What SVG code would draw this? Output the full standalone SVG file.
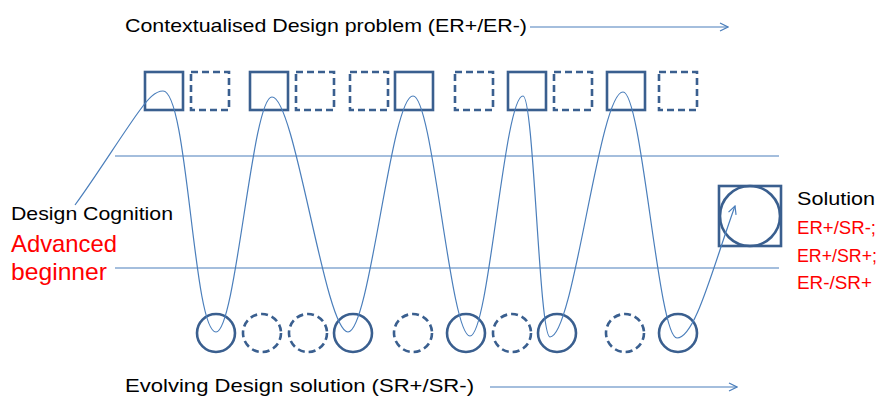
<svg xmlns="http://www.w3.org/2000/svg" width="885" height="398" viewBox="0 0 885 398">
  <style>
    .box { fill: none; stroke: #3A5F8F; stroke-width: 2.6; }
    .dash { stroke-dasharray: 7 4; }
    .thin { fill: none; stroke: #4A7EBB; stroke-width: 1.2; }
    .lbl { font-family: "Liberation Sans", Arial, sans-serif; font-size: 19px; fill: #000; }
    .red { font-family: "Liberation Sans", Arial, sans-serif; fill: #FF0000; }
  </style>
  <defs>
    <marker id="open" viewBox="0 0 10 10" refX="9" refY="5" markerWidth="10" markerHeight="10" markerUnits="userSpaceOnUse" orient="auto">
      <path d="M1,1 L9,5 L1,9" fill="none" stroke="#4A7EBB" stroke-width="1.2"/>
    </marker>
  </defs>
  <rect width="885" height="398" fill="#FFFFFF"/>

  <!-- top row: problem frames -->
  <g id="problem-frames">
    <rect id="p1" class="box" x="145" y="72" width="38" height="38"/>
    <rect id="p2" class="box dash" x="191" y="72" width="38" height="38"/>
    <rect id="p3" class="box" x="250" y="72" width="38" height="38"/>
    <rect id="p4" class="box dash" x="296" y="72" width="38" height="38"/>
    <rect id="p5" class="box dash" x="350" y="72" width="38" height="38"/>
    <rect id="p6" class="box" x="395" y="72" width="38" height="38"/>
    <rect id="p7" class="box dash" x="455" y="72" width="38" height="38"/>
    <rect id="p8" class="box" x="508" y="72" width="38" height="38"/>
    <rect id="p9" class="box dash" x="554" y="72" width="38" height="38"/>
    <rect id="p10" class="box" x="607" y="72" width="38" height="38"/>
    <rect id="p11" class="box dash" x="659" y="72" width="38" height="38"/>
  </g>

  <!-- bottom row: solution states -->
  <g id="solution-states">
    <circle id="s1" class="box" cx="216" cy="333" r="19"/>
    <circle id="s2" class="box dash" cx="262" cy="333" r="19"/>
    <circle id="s3" class="box dash" cx="308" cy="333" r="19"/>
    <circle id="s4" class="box" cx="353" cy="333" r="19"/>
    <circle id="s5" class="box dash" cx="413" cy="333" r="19"/>
    <circle id="s6" class="box" cx="466" cy="333" r="19"/>
    <circle id="s7" class="box dash" cx="512" cy="333" r="19"/>
    <circle id="s8" class="box" cx="557" cy="333" r="19"/>
    <circle id="s9" class="box dash" cx="625" cy="333" r="19"/>
    <circle id="s10" class="box" cx="678" cy="333" r="19"/>
  </g>

  <!-- final solution node -->
  <g id="solution">
    <rect class="box" x="719" y="186" width="62" height="60"/>
    <circle class="box" cx="750" cy="216" r="30"/>
  </g>

  <!-- band boundaries and oscillating cognition path -->
  <g id="connectors">
    <line class="thin" x1="115" y1="156" x2="779" y2="156"/>
    <line class="thin" x1="115" y1="268" x2="779" y2="268"/>
    <line class="thin" x1="530" y1="27" x2="728" y2="27" marker-end="url(#open)"/>
    <line class="thin" x1="490" y1="387" x2="737" y2="387" marker-end="url(#open)"/>
    <path class="thin" marker-end="url(#open)" d="M75,205 C95,178 125,130 140,110 C148,99 155,91 163,91
      C188,91 193,332 216,332
      C236,332 252,97 272,97
      C295,97 325,332 348,332
      C370,332 391,96 413,96
      C433,96 450,336 470,336
      C489,336 504,96 523,96
      C534,96 539,337 550,337
      C574,337 599,92 623,92
      C642,92 658,338 677,338
      C695,338 712,270 735,206"/>
  </g>

  <!-- labels -->
  <g id="labels">
    <text class="lbl" x="125" y="32" textLength="402" lengthAdjust="spacingAndGlyphs">Contextualised Design problem (ER+/ER-)</text>
    <text class="lbl" x="125" y="392" textLength="349" lengthAdjust="spacingAndGlyphs">Evolving Design solution (SR+/SR-)</text>
    <text class="lbl" x="11" y="220" textLength="162" lengthAdjust="spacingAndGlyphs">Design Cognition</text>
    <text class="red" x="11" y="252" font-size="24" textLength="106" lengthAdjust="spacingAndGlyphs">Advanced</text>
    <text class="red" x="11" y="280" font-size="24" textLength="96" lengthAdjust="spacingAndGlyphs">beginner</text>
    <text class="lbl" x="797" y="205" textLength="78" lengthAdjust="spacingAndGlyphs">Solution</text>
    <text class="red" x="797" y="234" font-size="19" textLength="79" lengthAdjust="spacingAndGlyphs">ER+/SR-;</text>
    <text class="red" x="797" y="262" font-size="19" textLength="80" lengthAdjust="spacingAndGlyphs">ER+/SR+;</text>
    <text class="red" x="797" y="289" font-size="19" textLength="75" lengthAdjust="spacingAndGlyphs">ER-/SR+</text>
  </g>
</svg>
